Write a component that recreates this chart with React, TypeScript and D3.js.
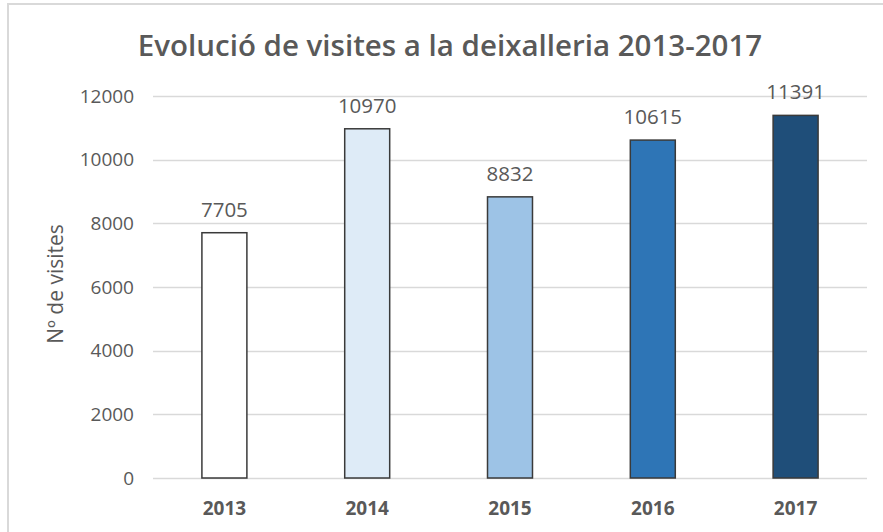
import React, { useEffect, useRef } from "react";
import * as d3 from "d3";

const years = ["2013", "2014", "2015", "2016", "2017"];
const visits = [7705, 10970, 8832, 10615, 11391];
const barColors = ["#FFFFFF", "#DEEBF7", "#9DC3E6", "#2E75B6", "#1F4E79"];
const yTicks = [0, 2000, 4000, 6000, 8000, 10000, 12000];

const title = "Evolució de visites a la deixalleria 2013-2017";
const yTitle = "Nº de visites";

const W = 883;
const H = 532;
const FONT = "'Open Sans', 'Noto Sans', sans-serif";
const TEXT = "#595959";

const App = () => {
  const ref = useRef<SVGSVGElement>(null);

  useEffect(() => {
    const el = ref.current;
    if (!el) return;
    const svg = d3.select(el);
    svg.selectAll("*").remove();

    // plot area
    const left = 153;
    const right = 867;
    const top = 96;
    const bottom = 478;

    const x = d3
      .scaleBand()
      .domain(years)
      .range([left, right])
      .paddingInner(0.685)
      .paddingOuter(0.3425);
    const y = d3.scaleLinear().domain([0, 12000]).range([bottom, top]);

    // chart frame
    svg
      .append("rect")
      .attr("x", 8)
      .attr("y", 4)
      .attr("width", W + 20)
      .attr("height", H + 20)
      .attr("fill", "#fff")
      .attr("stroke", "#d9d9d9")
      .attr("stroke-width", 2);

    // gridlines
    svg
      .append("g")
      .selectAll("line")
      .data(yTicks)
      .enter()
      .append("line")
      .attr("x1", left)
      .attr("x2", right)
      .attr("y1", (d) => Math.round(y(d)) + 0.5)
      .attr("y2", (d) => Math.round(y(d)) + 0.5)
      .attr("stroke", "#d9d9d9")
      .attr("stroke-width", 1.5);

    // y tick labels
    svg
      .append("g")
      .selectAll("text")
      .data(yTicks)
      .enter()
      .append("text")
      .attr("x", 134)
      .attr("y", (d) => y(d))
      .attr("dy", "0.35em")
      .attr("text-anchor", "end")
      .attr("font-family", FONT)
      .attr("font-size", 19)
      .attr("fill", TEXT)
      .text((d) => String(d));

    // bars
    svg
      .append("g")
      .selectAll("rect")
      .data(visits)
      .enter()
      .append("rect")
      .attr("x", (d, i) => x(years[i]) as number)
      .attr("y", (d) => y(d))
      .attr("width", x.bandwidth())
      .attr("height", (d) => y(0) - y(d))
      .attr("fill", (d, i) => barColors[i])
      .attr("stroke", "#3a3a3a")
      .attr("stroke-width", 1.5);

    // data labels
    svg
      .append("g")
      .selectAll("text")
      .data(visits)
      .enter()
      .append("text")
      .attr("x", (d, i) => (x(years[i]) as number) + x.bandwidth() / 2)
      .attr("y", (d) => y(d) - 16)
      .attr("text-anchor", "middle")
      .attr("font-family", FONT)
      .attr("font-size", 20.5)
      .attr("fill", TEXT)
      .text((d) => String(d));

    // x labels
    svg
      .append("g")
      .selectAll("text")
      .data(years)
      .enter()
      .append("text")
      .attr("x", (d) => (x(d) as number) + x.bandwidth() / 2)
      .attr("y", 515)
      .attr("text-anchor", "middle")
      .attr("font-family", FONT)
      .attr("font-size", 19)
      .attr("font-weight", 700)
      .attr("fill", TEXT)
      .text((d) => d);

    // axis title
    svg
      .append("text")
      .attr("transform", "translate(56, 284) rotate(-90)")
      .attr("dy", "0.35em")
      .attr("text-anchor", "middle")
      .attr("font-family", FONT)
      .attr("font-size", 21)
      .attr("fill", TEXT)
      .text(yTitle);

    // title
    svg
      .append("text")
      .attr("x", 450)
      .attr("y", 56)
      .attr("text-anchor", "middle")
      .attr("font-family", FONT)
      .attr("font-size", 29.5)
      .attr("font-weight", 600)
      .attr("fill", TEXT)
      .text(title);
  }, []);

  return (
    <div style={{ position: "absolute", left: 0, top: 0, width: W, height: H, overflow: "hidden" }}>
      <svg ref={ref} width={W} height={H} style={{ display: "block" }} />
    </div>
  );
};

export default App;
